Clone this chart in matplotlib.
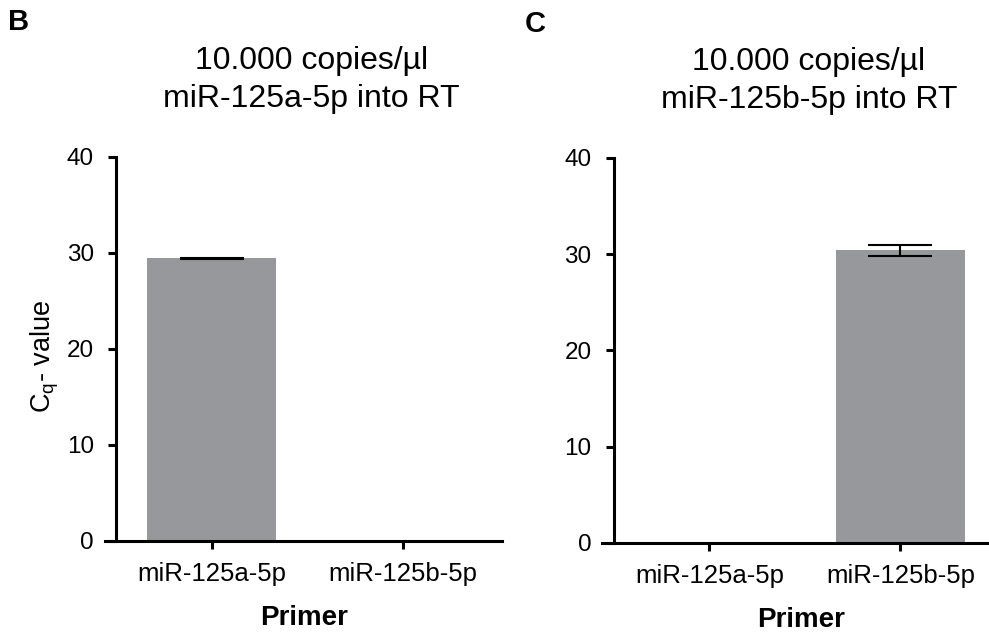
import numpy as np
import matplotlib.pyplot as plt

plt.rcParams['font.family'] = ['Liberation Sans', 'DejaVu Sans']
plt.rcParams['mathtext.fontset'] = 'custom'
plt.rcParams['mathtext.rm'] = 'Liberation Sans'
plt.rcParams['mathtext.it'] = 'Liberation Sans'

# data
primers = ["miR-125a-5p", "miR-125b-5p"]
cq_b = [29.45, np.nan]     # panel B: miR-125a-5p into RT
err_b = [0.06, np.nan]
cq_c = [np.nan, 30.4]      # panel C: miR-125b-5p into RT
err_c = [np.nan, 0.55]
titles = ["10.000 copies/\u00b5l\nmiR-125a-5p into RT",
          "10.000 copies/\u00b5l\nmiR-125b-5p into RT"]
panel_labels = ["B", "C"]

bar_color = "#96989c"

fig = plt.figure(figsize=(9.89, 6.39), dpi=100)
ax_b = fig.add_axes([0.106, 0.1534, 0.402, 0.601])
ax_c = fig.add_axes([0.609, 0.1503, 0.402, 0.6025])

x = np.arange(len(primers))
for ax, vals, errs, title in [(ax_b, cq_b, err_b, titles[0]), (ax_c, cq_c, err_c, titles[1])]:
    ax.bar(x, vals, width=0.675, color=bar_color, zorder=1)
    ax.errorbar(x, vals, yerr=errs, fmt="none", ecolor="black", elinewidth=1.5,
                capsize=23, capthick=1.5, zorder=2)
    ax.set_xlim(-0.56, 1.52)
    ax.set_ylim(0, 40)
    ax.set_yticks([0, 10, 20, 30, 40])
    ax.set_xticks(x)
    ax.set_xticklabels(primers, fontsize=18.5)
    ax.tick_params(axis="y", labelsize=17.5, pad=10)
    ax.tick_params(axis="x", pad=9)
    ax.tick_params(width=2.2, length=6, color="black")
    ax.spines["top"].set_visible(False)
    ax.spines["right"].set_visible(False)
    ax.spines["left"].set_position(("data", -0.5))
    ax.spines["left"].set_linewidth(2.2)
    ax.spines["bottom"].set_linewidth(2.2)
    ax.set_xlabel("Primer", fontsize=20, fontweight="bold", labelpad=14)
    ax.set_title(title, fontsize=23, pad=36, linespacing=1.35, x=0.52)

ax_b.set_ylabel("C$_\\mathregular{q}$- value", fontsize=19.5)
ax_b.yaxis.set_label_coords(-0.11, 0.48)

fig.text(0.008, 0.966, panel_labels[0], fontsize=21, fontweight="bold", va="center")
fig.text(0.531, 0.962, panel_labels[1], fontsize=21, fontweight="bold", va="center")

fig.savefig("out.png", dpi=100)
